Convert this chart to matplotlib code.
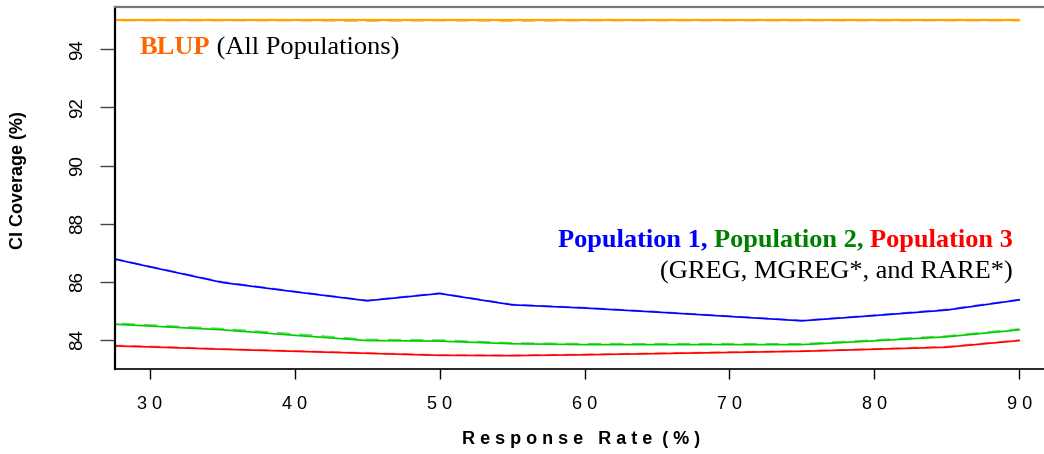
import matplotlib
matplotlib.use("Agg")
import matplotlib.pyplot as plt

# response rates (%)
rate = [25, 30, 35, 40, 45, 50, 55, 60, 65, 70, 75, 80, 85, 90]

# CI coverage (%)
pop1 = [87.06, 86.51, 85.97, 85.65, 85.34, 85.59, 85.20, 85.09, 84.95, 84.80, 84.65, 84.83, 85.02, 85.37]
pop2 = [84.60, 84.47, 84.34, 84.15, 83.97, 83.95, 83.86, 83.83, 83.83, 83.83, 83.83, 83.96, 84.10, 84.34]
pop3 = [83.82, 83.75, 83.67, 83.60, 83.53, 83.46, 83.45, 83.48, 83.52, 83.56, 83.60, 83.67, 83.74, 83.97]
# second estimator (dashed, nearly on top)
pop1b = [87.07, 86.52, 85.99, 85.66, 85.35, 85.60, 85.21, 85.10, 84.96, 84.81, 84.66, 84.84, 85.04, 85.38]
pop2b = [84.62, 84.50, 84.37, 84.19, 84.00, 83.98, 83.88, 83.85, 83.85, 83.85, 83.85, 83.98, 84.12, 84.36]
pop3b = [83.83, 83.77, 83.68, 83.61, 83.54, 83.47, 83.46, 83.49, 83.53, 83.57, 83.61, 83.68, 83.76, 83.98]
blup = [95.0] * len(rate)
blup2 = [95.0, 95.0, 95.0, 95.0, 94.98, 95.0, 94.98, 95.0, 95.0, 95.0, 95.0, 95.0, 95.0, 95.0]

xticks = [30, 40, 50, 60, 70, 80, 90]
yticks = [84, 86, 88, 90, 92, 94]

W, H = 1044, 454
fig = plt.figure(figsize=(W / 100, H / 100), dpi=100)
ax = fig.add_axes([115 / W, 1 - 369 / H, (1054 - 115) / W, (369 - 7) / H])

ax.plot(rate, blup2, color="#ffc04d", lw=1.6, ls=(0, (6, 4)))
ax.plot(rate, blup, color="#ffa500", lw=1.6)
ax.plot(rate, pop1b, color="#7f7fff", lw=1.3, ls=(0, (6, 4)))
ax.plot(rate, pop1, color="#0000ff", lw=1.2)
ax.plot(rate, pop2b, color="#66dd66", lw=1.6, ls=(0, (6, 4)))
ax.plot(rate, pop2, color="#00cc00", lw=1.2)
ax.plot(rate, pop3b, color="#ff8080", lw=1.3, ls=(0, (6, 4)))
ax.plot(rate, pop3, color="#ff0000", lw=1.2)

ax.set_xlim(27.6, 92.4)
ax.set_ylim(82.99, 95.46)

ax.set_xticks(xticks)
ax.set_xticklabels([" ".join(str(v)) for v in xticks], family="Liberation Sans", fontsize=13)
ax.set_yticks(yticks)
ax.set_yticklabels([str(v) for v in yticks], family="Liberation Sans", fontsize=13.5,
                   rotation=90, va="center")
ax.tick_params(axis="x", length=7.2, width=1, pad=12)
ax.tick_params(axis="y", length=10.8, width=1, pad=10, color="#444444")

ax.spines["left"].set_linewidth(1.6)
ax.spines["bottom"].set_linewidth(1.2)
ax.spines["top"].set_color("#777777")
ax.spines["top"].set_linewidth(1.6)
ax.spines["right"].set_visible(False)

fig.text(19 / W, 1 - 180 / H, "CI Coverage (%)", rotation=90, ha="center", va="center",
         family="Liberation Sans", fontweight="bold", fontsize=13)
fig.text(581 / W, 1 - 439 / H, "R e s p o n s e   R a t e  ( % )", ha="center", va="center",
         family="Liberation Sans", fontweight="bold", fontsize=13)

serif = "Liberation Serif"
fig.canvas.draw()
r = fig.canvas.get_renderer()


def put_right(pieces, x_right, y):
    # place coloured pieces right to left so the whole line ends at x_right
    x = x_right
    for txt, col, wt in reversed(pieces):
        t = fig.text(x / W, 1 - y / H, txt, color=col, fontweight=wt, family=serif,
                     fontsize=19, ha="right", va="center")
        bb = t.get_window_extent(renderer=r)
        x -= bb.width


def put_left(pieces, x_left, y):
    x = x_left
    for txt, col, wt in pieces:
        t = fig.text(x / W, 1 - y / H, txt, color=col, fontweight=wt, family=serif,
                     fontsize=19, ha="left", va="center")
        bb = t.get_window_extent(renderer=r)
        x += bb.width


put_left([("BLUP", "#ff6600", "bold"), (" (All Populations)", "black", "normal")], 140, 48)
put_right([("Population 1, ", "#0000ff", "bold"), ("Population 2, ", "#008000", "bold"),
           ("Population 3", "#ff0000", "bold")], 1013, 241)
put_right([("(GREG, MGREG*, and RARE*)", "black", "normal")], 1013, 272)

fig.savefig("out.png", dpi=100, facecolor="white")
